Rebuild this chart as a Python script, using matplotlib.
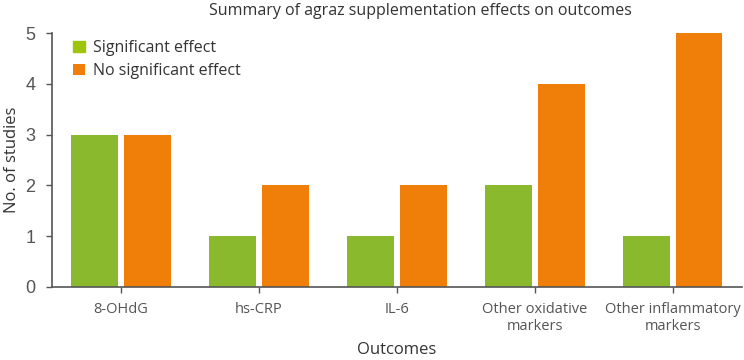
import numpy as np
import matplotlib
matplotlib.use("Agg")
import matplotlib.pyplot as plt

# data
outcomes = ["8-OHdG", "hs-CRP", "IL-6", "Other oxidative\nmarkers", "Other inflammatory\nmarkers"]
significant = [3, 1, 1, 2, 1]
not_significant = [3, 2, 2, 4, 5]
y_ticks = [0, 1, 2, 3, 4, 5]

green = "#8ab92d"
orange = "#f07f09"

plt.rcParams["font.family"] = ["Open Sans", "DejaVu Sans"]

fig = plt.figure(figsize=(7.44, 3.6), dpi=100)
ax = fig.add_axes([0.07, 0.203, 0.927, 0.705])

x = np.arange(len(outcomes))
w = 0.34
ax.bar(x - 0.19, significant, width=w, color=green, label="Significant effect")
ax.bar(x + 0.19, not_significant, width=w, color=orange, label="No significant effect")

ax.set_xlim(-0.5, 4.5)
ax.set_ylim(0, 5)
ax.set_yticks(y_ticks)
ax.set_xticks(x)
ax.set_xticklabels(outcomes, fontsize=10.5, color="#333333", linespacing=1.15)
for lbl in ax.get_yticklabels():
    lbl.set_fontfamily("Liberation Sans")
    lbl.set_fontsize(13)
    lbl.set_color("#222222")

for s in ["top", "right"]:
    ax.spines[s].set_visible(False)
for s in ["left", "bottom"]:
    ax.spines[s].set_color("#555555")
    ax.spines[s].set_linewidth(1.2)
ax.tick_params(axis="both", colors="#555555", length=4, width=1)
ax.tick_params(axis="y", pad=8)
ax.tick_params(axis="x", pad=7)

ax.set_ylabel("No. of studies", fontsize=12, color="#333333", labelpad=4)
ax.set_xlabel("Outcomes", fontsize=12, color="#333333", labelpad=6)

fig.text(0.565, 0.97, "Summary of agraz supplementation effects on outcomes",
         ha="center", va="center", fontsize=11.5, color="#333333")

leg = ax.legend(loc="upper left", bbox_to_anchor=(0.01, 1.03), frameon=False,
                fontsize=11.5, handlelength=0.7, handleheight=0.7,
                handletextpad=0.5, labelspacing=0.45, labelcolor="#333333")
leg.legend_handles[0].set_color("#9fc50a")

fig.savefig("out.png", dpi=100)
